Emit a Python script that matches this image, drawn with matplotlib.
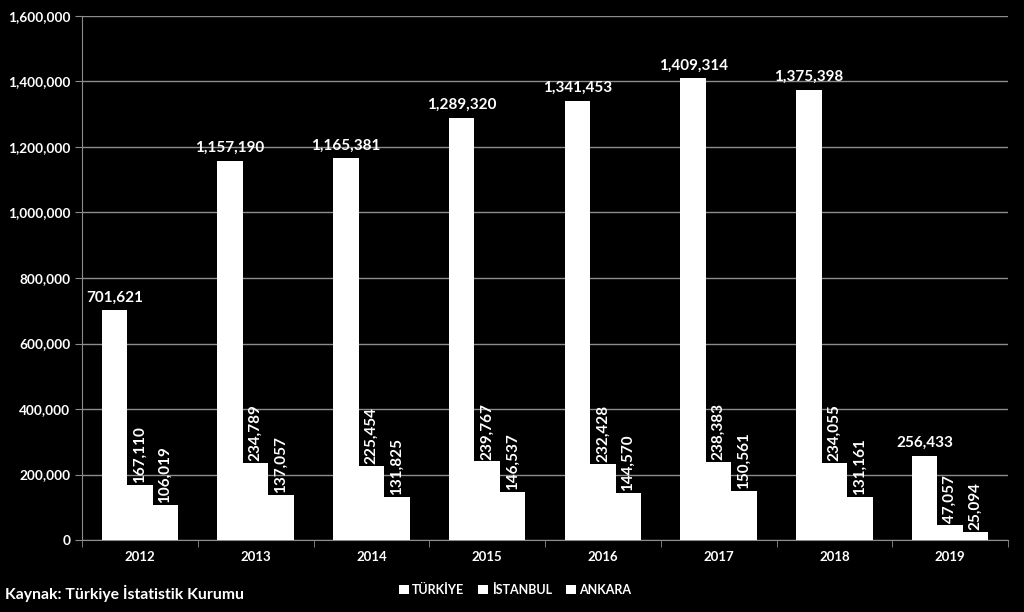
import numpy as np
import matplotlib.pyplot as plt

years = ["2012", "2013", "2014", "2015", "2016", "2017", "2018", "2019"]
turkiye = [701621, 1157190, 1165381, 1289320, 1341453, 1409314, 1375398, 256433]
istanbul = [167110, 234789, 225454, 239767, 232428, 238383, 234055, 47057]
ankara = [106019, 137057, 131825, 146537, 144570, 150561, 131161, 25094]
series_names = ["TÜRKİYE", "İSTANBUL", "ANKARA"]

plt.rcParams['font.family'] = ['Lato', 'DejaVu Sans']
plt.rcParams['font.weight'] = 'bold'

fig = plt.figure(figsize=(10.24, 6.12), dpi=100, facecolor='black')
ax = fig.add_axes([82/1024, 1 - 540/612, 926/1024, 524/612], facecolor='black')

x = np.arange(len(years))
w = 0.22
grid_c = '#8c8c8c'

b1 = ax.bar(x - w, turkiye, w, color='white', label=series_names[0], zorder=3)
b2 = ax.bar(x, istanbul, w, color='white', label=series_names[1], zorder=3)
b3 = ax.bar(x + w, ankara, w, color='white', label=series_names[2], zorder=3)

# value labels: horizontal for Türkiye, vertical for the two cities
for xi, v in zip(x, turkiye):
    ax.text(xi - w, v + 18000, f"{v:,}", ha='center', va='bottom', color='white',
            fontsize=11, fontweight='bold')
for xi, v in zip(x, istanbul):
    ax.text(xi, v + 6000, f"{v:,}", ha='center', va='bottom', color='white',
            fontsize=11, fontweight='bold', rotation=90)
for xi, v in zip(x, ankara):
    ax.text(xi + w, v + 6000, f"{v:,}", ha='center', va='bottom', color='white',
            fontsize=11, fontweight='bold', rotation=90)

ax.set_xlim(-0.5, len(years) - 0.5)
ax.set_ylim(0, 1600000)
ax.set_yticks(np.arange(0, 1600001, 200000))
ax.set_yticklabels([f"{v:,}" for v in range(0, 1600001, 200000)])
ax.set_xticks(x)
ax.set_xticklabels(years)
ax.set_xticks(np.arange(-0.5, len(years)), minor=True)
ax.tick_params(axis='x', which='major', length=0, colors='white', labelsize=9.5, pad=8)
ax.tick_params(axis='x', which='minor', length=5, color=grid_c)
ax.tick_params(axis='y', length=5, color=grid_c, colors='white', labelsize=9.8)
for lab in ax.get_xticklabels() + ax.get_yticklabels():
    lab.set_fontweight('bold')
ax.yaxis.grid(True, color=grid_c, linewidth=1, zorder=0)
for s in ['top', 'right']:
    ax.spines[s].set_visible(False)
for s in ['left', 'bottom']:
    ax.spines[s].set_color(grid_c)

leg = fig.legend(handles=[b1, b2, b3], loc='center', bbox_to_anchor=(515/1024, 1 - 590/612),
                 ncol=3, frameon=False, fontsize=9, handlelength=0.8, handleheight=0.8,
                 handletextpad=0.3, columnspacing=1.1)
for t in leg.get_texts():
    t.set_color('white')
    t.set_fontweight('bold')

fig.text(5/1024, 1 - 593/612, "Kaynak: Türkiye İstatistik Kurumu", color='white',
         fontsize=11.3, fontweight='bold', va='center', ha='left')

fig.savefig('out.png', dpi=100, facecolor='black')
